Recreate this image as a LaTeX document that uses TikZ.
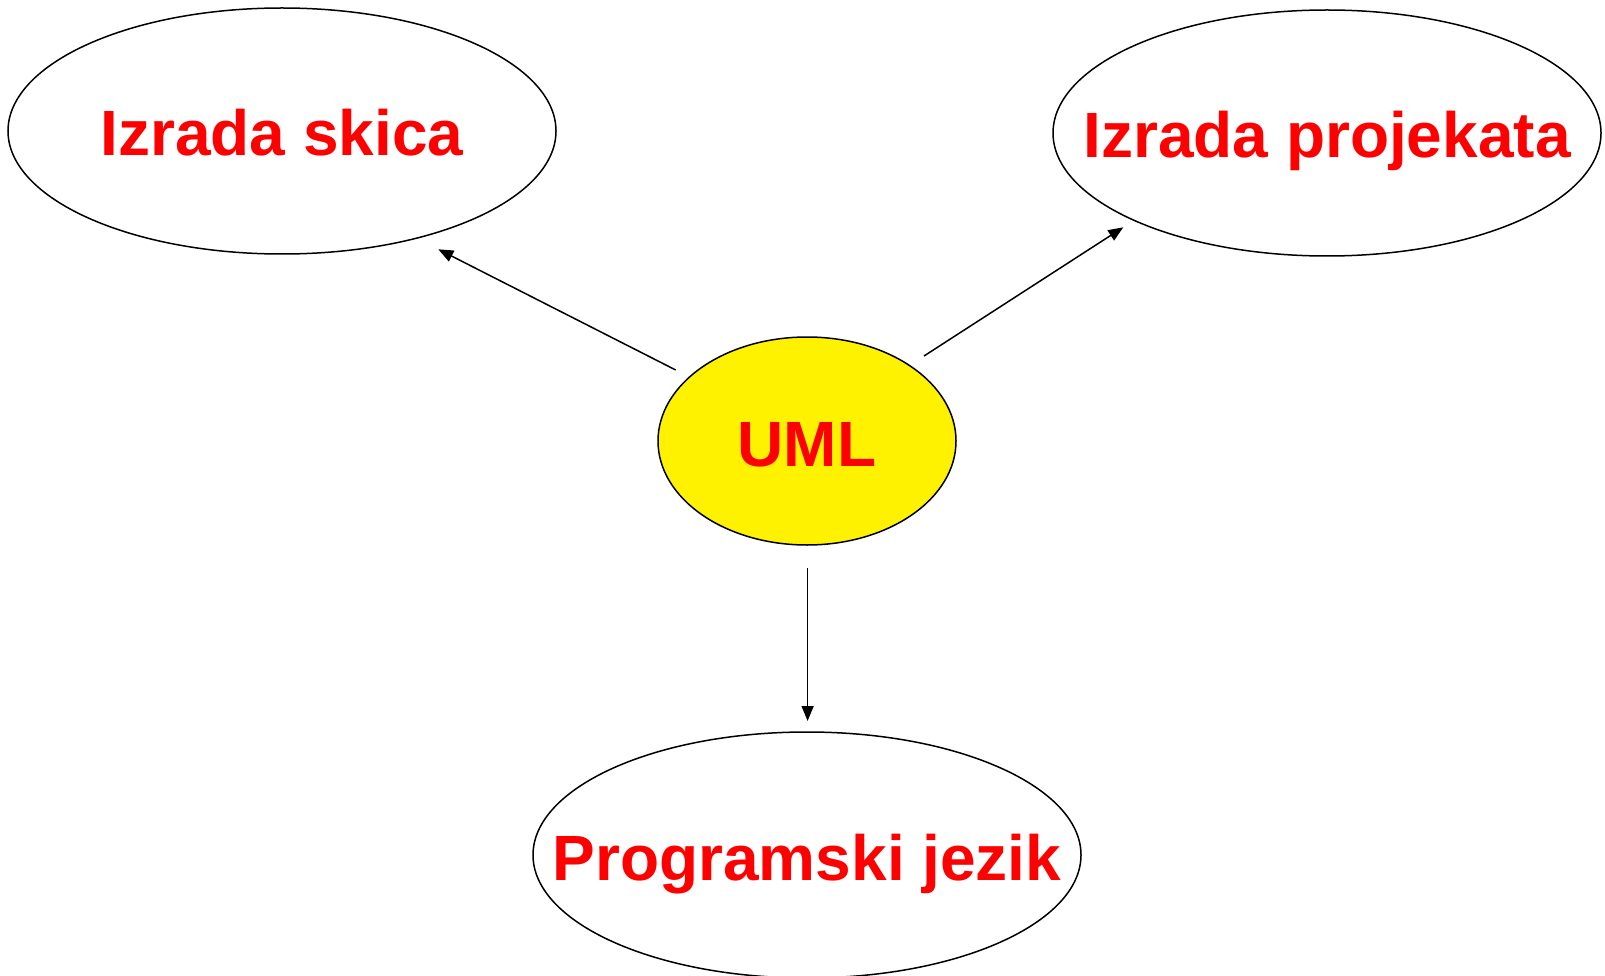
\documentclass[tikz,border=0pt]{standalone}
\usepackage{fontspec}
\setmainfont{Liberation Sans}
\usetikzlibrary{shapes.geometric,arrows.meta}
\begin{document}
\begin{tikzpicture}[x=1pt,y=-1pt,
  blob/.style={draw=black, line width=1.5pt, ellipse, inner sep=0pt, minimum width=548pt, minimum height=246pt},
  lbl/.style={text=red, font=\fontsize{64}{70}\selectfont\bfseries, anchor=base, inner sep=0pt},
  conn/.style={draw=black, line width=1.5pt, -{Triangle[length=15pt,width=12pt]}}]
\useasboundingbox (0,0) rectangle (1605,976);
\node[blob] (skica) at (282,131) {};
\node[blob] (proj) at (1327,133) {};
\node[blob] (prog) at (807,855) {};
\node[blob, fill=yellow, minimum width=298pt, minimum height=208pt] (uml) at (807,441) {};
\node[lbl] (tskica) at ([yshift=-25pt]skica.center) {Izrada skica};
\node[lbl] (tproj) at ([yshift=-25pt]proj.center) {Izrada projekata};
\node[lbl] (tprog) at ([yshift=-25pt]prog.center) {Programski jezik};
\node[lbl] (tuml) at ([yshift=-25pt]uml.center) {UML};
\coordinate (a1s) at (675.7,370);
\coordinate (a1e) at (438.3,249.3);
\coordinate (a2s) at (924,356);
\coordinate (a2e) at (1123.3,227.3);
\coordinate (a3s) at (807.6,568);
\coordinate (a3e) at (807.6,721);
\draw[conn] (a1s) -- (a1e);
\draw[conn] (a2s) -- (a2e);
\draw[conn] (a3s) -- (a3e);
\end{tikzpicture}
\end{document}
